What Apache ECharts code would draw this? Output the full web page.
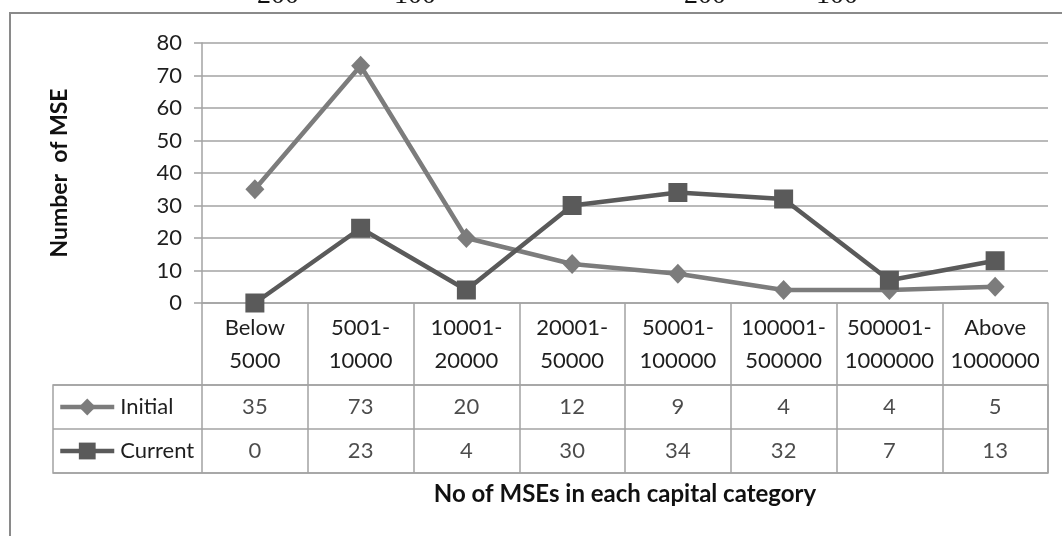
<!DOCTYPE html>
<html>
<head>
<meta charset="utf-8">
<script src="https://cdn.jsdelivr.net/npm/echarts@6/dist/echarts.min.js"></script>
<style>
  html, body { margin: 0; padding: 0; background: #fff; }
  #chart { width: 1062px; height: 536px; }
</style>
</head>
<body>
<div id="chart"></div>
<script>
// Capital categories (two-line labels) and MSE counts per series
const categories = ['Below\n5000', '5001-\n10000', '10001-\n20000', '20001-\n50000',
  '50001-\n100000', '100001-\n500000', '500001-\n1000000', 'Above\n1000000'];
const initialValues = [35, 73, 20, 12, 9, 4, 4, 5];
const currentValues = [0, 23, 4, 30, 34, 32, 7, 13];
const seriesNames = ['Initial', 'Current'];
const yMin = 0, yMax = 80, yStep = 10;
// stray text from the surrounding page above the chart frame
const pageTexts = [['200', 278], ['100', 415], ['200', 705], ['100', 837]];

const FONT = 'Lato';
const TEXT = '#1e1e1e';
const GRID = '#a3a3a3';
const FS = 22;
const INITIAL_COLOR = '#7c7c7c';
const CURRENT_COLOR = '#5a5a5a';

// rows of the data table: [categoryIndex, rowIndex, value]
const tableData = [];
[initialValues, currentValues].forEach((vals, r) => {
  vals.forEach((v, i) => tableData.push([i, r, v]));
});

const chart = echarts.init(document.getElementById('chart'), null, { renderer: 'canvas' });

const legendBase = {
  left: 58, padding: 0, itemWidth: 54, itemHeight: 21, itemGap: 0, selectedMode: false,
  lineStyle: { width: 4.5 },
  textStyle: { fontSize: FS, color: TEXT, fontFamily: FONT, padding: [0, 0, 0, 1] }
};

chart.setOption({
  backgroundColor: '#fff',
  animation: false,
  textStyle: { fontFamily: FONT },
  grid: [
    { left: 202, right: 14, top: 43, height: 260 },
    { left: 53, width: 995, top: 385, height: 88, show: true, borderColor: GRID, borderWidth: 1.5 },
    { left: 202, right: 14, top: 385, height: 88 }
  ],
  xAxis: [
    {
      gridIndex: 0, type: 'category', data: categories, boundaryGap: true,
      axisLine: { lineStyle: { color: GRID, width: 1.5 } },
      axisTick: { show: true, interval: 0, length: 170, lineStyle: { color: GRID, width: 1.5 } },
      axisLabel: { interval: 0, margin: 8, fontSize: FS, color: TEXT, lineHeight: 33, fontFamily: FONT },
      splitLine: { show: false }
    },
    { gridIndex: 1, type: 'value', show: false },
    {
      gridIndex: 2, type: 'category', data: categories, boundaryGap: true,
      axisLine: { show: false }, axisTick: { show: false }, axisLabel: { show: false },
      name: 'No of MSEs in each capital category', nameLocation: 'middle', nameGap: 9,
      nameTextStyle: { fontSize: 24, fontWeight: 'bold', color: '#111', fontFamily: FONT, verticalAlign: 'top' }
    }
  ],
  yAxis: [
    {
      gridIndex: 0, type: 'value', min: yMin, max: yMax, interval: yStep,
      axisLine: { show: true, lineStyle: { color: GRID, width: 1.5 } },
      axisTick: { show: true, length: 8, lineStyle: { color: GRID, width: 1.5 } },
      axisLabel: { margin: 20, fontSize: FS, color: TEXT, fontFamily: FONT },
      splitLine: { show: true, lineStyle: { color: GRID, width: 1.5 } },
      name: 'Number  of MSE', nameLocation: 'middle', nameGap: 131, nameRotate: 90,
      nameTextStyle: { fontSize: 23, fontWeight: 'bold', color: '#111', fontFamily: FONT }
    },
    {
      gridIndex: 1, type: 'category', data: seriesNames, inverse: true, boundaryGap: true,
      axisLine: { show: false }, axisTick: { show: false }, axisLabel: { show: false },
      splitLine: { show: true, interval: 0, lineStyle: { color: GRID, width: 1.5 } }
    },
    {
      gridIndex: 2, type: 'category', data: seriesNames, inverse: true, boundaryGap: true,
      show: false
    }
  ],
  legend: [
    Object.assign({ data: ['Initial'], top: 396 }, legendBase),
    Object.assign({ data: ['Current'], top: 440 }, legendBase)
  ],
  series: [
    {
      name: 'Initial', type: 'line', xAxisIndex: 0, yAxisIndex: 0, data: initialValues,
      symbol: 'diamond', symbolSize: [19, 20], showAllSymbol: true,
      lineStyle: { color: INITIAL_COLOR, width: 4.5 },
      itemStyle: { color: INITIAL_COLOR, borderWidth: 0 }
    },
    {
      name: 'Current', type: 'line', xAxisIndex: 0, yAxisIndex: 0, data: currentValues,
      symbol: 'rect', symbolSize: 19, showAllSymbol: true,
      lineStyle: { color: CURRENT_COLOR, width: 4.5 },
      itemStyle: { color: CURRENT_COLOR, borderWidth: 0 }
    },
    {
      name: 'table', type: 'scatter', xAxisIndex: 2, yAxisIndex: 2, data: tableData,
      symbolSize: 1, itemStyle: { color: 'rgba(0,0,0,0)' }, silent: true,
      label: {
        show: true, position: 'inside', formatter: p => String(p.value[2]),
        fontSize: FS, color: TEXT, fontFamily: FONT
      }
    }
  ],
  graphic: [
    {
      type: 'rect', z: 100, silent: true,
      shape: { x: 10, y: 13, width: 1200, height: 700 },
      style: { fill: 'none', stroke: '#8a8a8a', lineWidth: 2 }
    }
  ].concat(pageTexts.map(([t, x]) => ({
    type: 'text', z: 99, silent: true, x: x, y: -4,
    style: { text: t, font: '28px "Liberation Serif"', fill: '#111', textAlign: 'center', textVerticalAlign: 'middle' }
  })))
});
</script>
</body>
</html>
